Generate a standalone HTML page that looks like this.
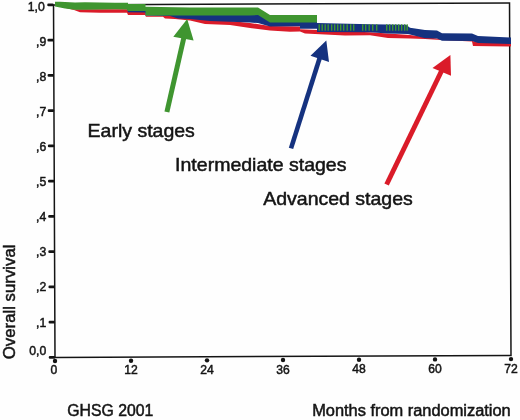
<!DOCTYPE html>
<html><head><meta charset="utf-8"><style>
html,body{margin:0;padding:0;background:#fff;width:520px;height:420px;overflow:hidden}
svg{display:block}
text{font-family:"Liberation Sans",sans-serif;fill:#141414;stroke:#141414;stroke-width:0.5px}
svg{will-change:transform}
</style></head><body>
<svg width="520" height="420" viewBox="0 0 520 420">
<rect width="520" height="420" fill="#fefefe"/>
<g transform="rotate(-0.24 55 357.4)" stroke="#141414" fill="none">
<path d="M55 4.9 L511 4.9 L511 357.4 L55 357.4 Z" stroke-width="1.5"/>
<path d="M50 357.40H54M50 322.15H54M50 286.90H54M50 251.65H54M50 216.40H54M50 181.15H54M50 145.90H54M50 110.65H54M50 75.40H54M50 40.15H54M50 4.90H54" stroke-width="2.6" stroke-linecap="round"/>
<g fill="#141414" stroke="none"><circle cx="55" cy="361" r="2.2"/><circle cx="131" cy="361" r="2.2"/><circle cx="207" cy="361" r="2.2"/><circle cx="283" cy="361" r="2.2"/><circle cx="359" cy="361" r="2.2"/><circle cx="435" cy="361" r="2.2"/><circle cx="511" cy="361" r="2.2"/></g>
</g>
<g font-size="13.6" text-anchor="end" transform="translate(46.2 0) scale(0.9 1)"><text x="-1.6" y="11.20">1,0</text><text x="0" y="45.65">,9</text><text x="0" y="80.70">,8</text><text x="0" y="116.15">,7</text><text x="0" y="151.20">,6</text><text x="0" y="185.75">,5</text><text x="0" y="221.20">,4</text><text x="0" y="256.25">,3</text><text x="0" y="291.50">,2</text><text x="0" y="326.75">,1</text><text x="0" y="355.30">0,0</text></g>
<g font-size="13.2" text-anchor="middle" transform="scale(0.92 1)"><text x="58.70" y="374.40">0</text><text x="142.39" y="374.17">12</text><text x="225.00" y="373.94">24</text><text x="307.61" y="373.71">36</text><text x="390.22" y="373.48">48</text><text x="472.83" y="373.25">60</text><text x="555.43" y="373.02">72</text></g>
<text font-size="16.8" transform="translate(15 359.2) rotate(-90)">Overall survival</text>
<text font-size="16.2" x="67.3" y="416.3" textLength="86" lengthAdjust="spacingAndGlyphs">GHSG 2001</text>
<text font-size="16" x="312.2" y="415.7" textLength="198.5" lengthAdjust="spacingAndGlyphs">Months from randomization</text>
<path fill="#da1b29" d="M62 6 L74 9.2 L100 9.3 L115 9.3 L127 9.3 L128 11 L145 11 L146 15.5 L163 15.6 L190 16 L205 19 L230 21 L250 23 L270 26 L300 26.5 L300 29.2 L317 30 L345 31.3 L370 32.3 L388 33.5 L410 35 L437 38.5 L472 40 L473 41.3 L511 42 L511 46.4 L473 46 L472 41.5 L437 39.8 L425 39 L410 38.6 L388 38 L370 35.2 L345 35.4 L305 33.6 L300 31.6 L290 31.7 L270 30.5 L250 28 L230 25 L205 24 L190 20.5 L175 19 L165 18.5 L163 16.8 L146 16.8 L145 15 L128 15 L127 12.7 L100 12.7 L80 12.3 L74 10 L62 7 Z"/>
<path fill="#15327f" d="M55 2 L120 8 L145 10 L190 12 L258 14 L270 18 L317 20 L317 23 L370 24.2 L388 24.4 L406 24.7 L410 27.7 L425 30 L437 30.4 L442 33.3 L472 33.5 L478 35.9 L511 37.5 L511 44 L478 43 L472 41 L442 40.8 L437 38.5 L425 38.3 L408 34 L388 33.5 L370 32.3 L317 32 L317 28.75 L300 28.75 L300 26.3 L270 26.5 L258 23 L250 22.5 L210 21 L190 19 L178 18.5 L170 16 L146 15.5 L145 12.5 L128 12.3 L127 9 L55 5 Z"/>
<path fill="#3f9530" d="M55 1.7 L60 1.7 L65 2 L75 2.4 L85 2.3 L100 2.5 L115 2.7 L128 2.7 L128 4 L145.5 4 L145.5 6.8 L190 7.5 L258 7.5 L270 15 L317 15 L317 22.5 L270 22.5 L258 15 L250 15.5 L230 15.5 L190 15.5 L145.5 15.6 L145.5 11 L128 11 L127 9.4 L115 9.3 L100 9.4 L85 9.7 L75 9.8 L65 8.4 L60 7.5 L55 6.5 Z"/>
<g fill="#3f9530"><rect x="318.5" y="24.3" width="1.4" height="6.4"/><rect x="321.5" y="24.3" width="1.4" height="6.4"/><rect x="324.5" y="24.3" width="1.4" height="6.4"/><rect x="327.5" y="24.3" width="1.4" height="6.4"/><rect x="331" y="24.3" width="1.4" height="6.4"/><rect x="334" y="24.3" width="1.4" height="6.4"/><rect x="337" y="24.3" width="1.4" height="6.4"/><rect x="340" y="24.3" width="1.4" height="6.4"/><rect x="343" y="24.3" width="1.4" height="6.4"/><rect x="346.5" y="24.3" width="1.4" height="6.4"/><rect x="350" y="24.3" width="1.4" height="6.4"/><rect x="353" y="24.3" width="1.4" height="6.4"/><rect x="362" y="24.3" width="1.4" height="6.4"/><rect x="365" y="24.3" width="1.4" height="6.4"/><rect x="368.5" y="24.3" width="1.4" height="6.4"/><rect x="372" y="24.3" width="1.4" height="6.4"/><rect x="376" y="24.3" width="1.4" height="6.4"/><rect x="386" y="24.3" width="1.4" height="6.4"/><rect x="389" y="24.3" width="1.4" height="6.4"/><rect x="392" y="24.3" width="1.4" height="6.4"/><rect x="395" y="24.3" width="1.4" height="6.4"/><rect x="398" y="24.3" width="1.4" height="6.4"/><rect x="401" y="24.3" width="1.4" height="6.4"/><rect x="404" y="24.3" width="1.4" height="6.4"/><rect x="406.5" y="24.3" width="1.4" height="6.4"/></g>
<path d="M166.9 112 L184 37" stroke="#3f9530" stroke-width="5.0" fill="none"/><path d="M187.2 18.9 L193.6 40.5 L173.3 36.7 Z" fill="#3f9530"/><path d="M291 148.4 L320 57" stroke="#15327f" stroke-width="4.6" fill="none"/><path d="M326.3 40.5 L329 61.9 L310.5 55.7 Z" fill="#15327f"/><path d="M386.6 184.5 L442 70" stroke="#da1b29" stroke-width="4.9" fill="none"/><path d="M450.4 54.9 L451 75.7 L432.5 68 Z" fill="#da1b29"/>
<g font-size="18.6" lengthAdjust="spacingAndGlyphs">
<text x="87.6" y="136.6" textLength="107.2" lengthAdjust="spacingAndGlyphs">Early stages</text>
<text x="175.1" y="170.6" textLength="171.4" lengthAdjust="spacingAndGlyphs">Intermediate stages</text>
<text x="263.2" y="204.5" textLength="149.6" lengthAdjust="spacingAndGlyphs">Advanced stages</text>
</g>
</svg>
</body></html>
